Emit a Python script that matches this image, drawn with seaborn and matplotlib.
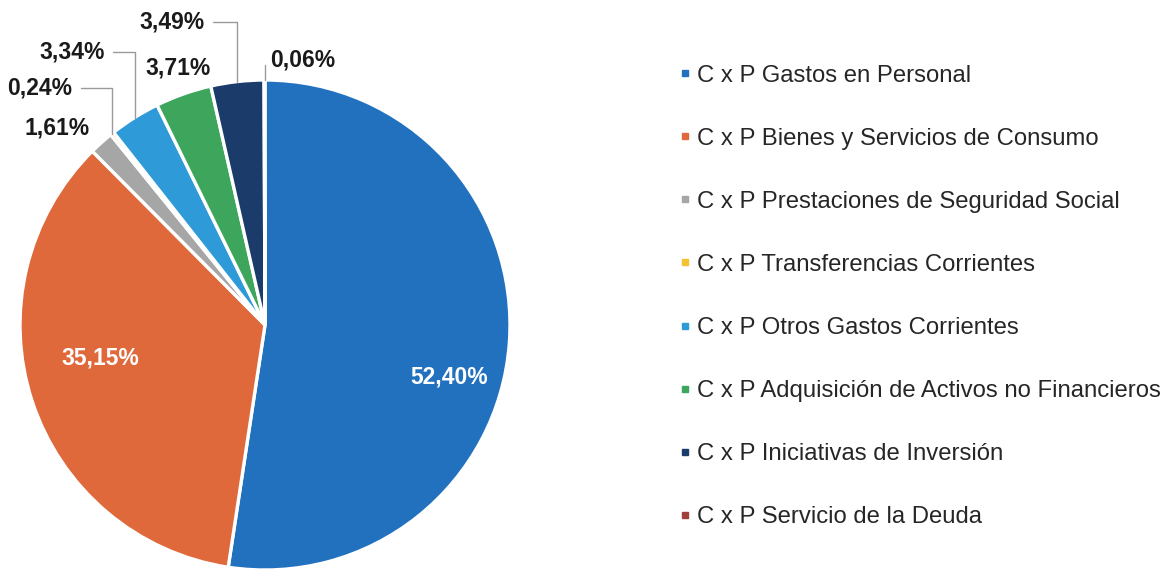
# Pie chart of C x P distribution

import numpy as np
import matplotlib.pyplot as plt
from matplotlib.lines import Line2D
import seaborn as sns

sns.set_theme(style='white')
plt.rcParams['font.family'] = ['Liberation Sans', 'DejaVu Sans']

# data
categories = ['C x P Gastos en Personal',
              'C x P Bienes y Servicios de Consumo',
              'C x P Prestaciones de Seguridad Social',
              'C x P Transferencias Corrientes',
              'C x P Otros Gastos Corrientes',
              'C x P Adquisición de Activos no Financieros',
              'C x P Iniciativas de Inversión',
              'C x P Servicio de la Deuda']
shares = [52.40, 35.15, 1.61, 0.24, 3.34, 3.71, 3.49, 0.06]
pctLabels = ['52,40%', '35,15%', '1,61%', '0,24%', '3,34%', '3,71%', '3,49%', '0,06%']

colors = ['#2271bf', '#e0693c', '#a6a6a6', '#f2c232', '#2f9ad8', '#3da65c', '#1b3c6b', '#a0403c']

# label placement (in pie radius units) and whether a leader line is drawn
labelPos = [(0.751, -0.212), (-0.673, -0.135), (-0.849, 0.804), (-0.918, 0.967),
            (-0.788, 1.114), (-0.355, 1.049), (-0.38, 1.237), (0.02, 1.082)]
labelHa = ['center', 'center', 'center', 'center', 'center', 'center', 'center', 'left']
leader = [False, False, False, True, True, False, True, True]
inside = [True, True, False, False, False, False, False, False]

W, H = 1173, 573
fig = plt.figure(figsize=(W / 100, H / 100), dpi=100)
cx, cy, r = 265, 325, 245
ax = fig.add_axes([(cx - r) / W, (H - cy - r) / H, 2 * r / W, 2 * r / H])

wedges, _ = ax.pie(shares, colors=colors, startangle=90, counterclock=False,
                   wedgeprops=dict(edgecolor='white', linewidth=2.4))
ax.set_xlim(-1, 1)
ax.set_ylim(-1, 1)
ax.set_aspect('equal')
ax.axis('off')

for w, lab, pos, ha, lead, ins in zip(wedges, pctLabels, labelPos, labelHa, leader, inside):
    color = 'white' if ins else '#1a1a1a'
    if lead:
        mid = np.deg2rad((w.theta1 + w.theta2) / 2)
        ax.annotate(lab, xy=(np.cos(mid), np.sin(mid)), xytext=pos, ha=ha, va='center',
                    fontsize=16.5, fontweight='bold', color=color, annotation_clip=False,
                    arrowprops=dict(arrowstyle='-', color='#9a9a9a', lw=1,
                                    connectionstyle='angle,angleA=0,angleB=90,rad=0',
                                    shrinkA=4, shrinkB=0))
    else:
        ax.text(pos[0], pos[1], lab, ha=ha, va='center', fontsize=16.5,
                fontweight='bold', color=color)

handles = [Line2D([], [], marker='s', linestyle='none', markersize=5,
                  markerfacecolor=c, markeredgecolor=c) for c in colors]
fig.legend(handles, categories, loc='upper left', bbox_to_anchor=(669 / W, 1 - 55 / H),
           frameon=False, fontsize=17.2, labelspacing=1.72, handlelength=0.5,
           handletextpad=0.26, borderaxespad=0)

fig.savefig('out.png', dpi=100)
